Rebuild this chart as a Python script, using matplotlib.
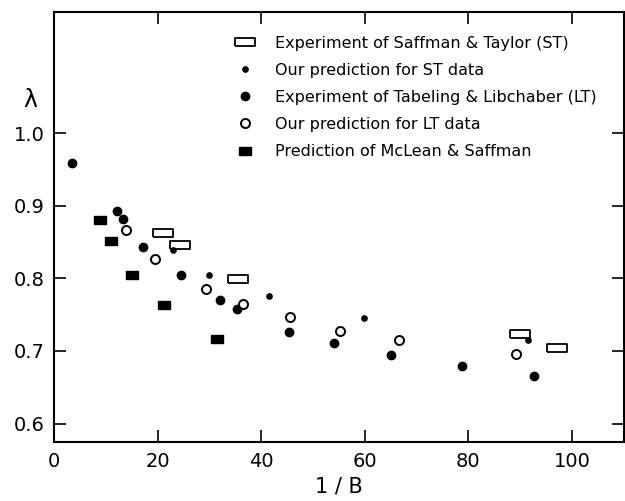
import numpy as np
import matplotlib.pyplot as plt

# Saffman & Taylor experiment (open rectangles)
st_x = [21.0, 24.2, 35.5, 89.9, 97.1]
st_y = [0.863, 0.846, 0.799, 0.724, 0.704]

# our prediction for ST data (small dots)
st_pred_x = [23.0, 29.9, 41.5, 59.9, 91.6]
st_pred_y = [0.839, 0.805, 0.776, 0.746, 0.715]

# Tabeling & Libchaber experiment (filled circles)
lt_x = [3.4, 12.1, 13.2, 17.1, 24.5, 32.1, 35.3, 45.4, 54.1, 65.0, 78.7, 92.7]
lt_y = [0.959, 0.893, 0.882, 0.843, 0.804, 0.770, 0.758, 0.726, 0.711, 0.695, 0.679, 0.666]

# our prediction for LT data (open circles)
lt_pred_x = [13.85, 19.5, 29.4, 36.5, 45.5, 55.1, 66.5, 89.2]
lt_pred_y = [0.866, 0.826, 0.785, 0.765, 0.747, 0.728, 0.715, 0.6955]

# McLean & Saffman prediction (filled rectangles)
ms_x = [8.85, 11.0, 15.0, 21.2, 31.5]
ms_y = [0.880, 0.851, 0.804, 0.763, 0.716]

wide_rect = [(-1.25, -0.45), (1.25, -0.45), (1.25, 0.45), (-1.25, 0.45), (-1.25, -0.45)]
fat_rect = [(-0.7, -0.5), (0.7, -0.5), (0.7, 0.5), (-0.7, 0.5), (-0.7, -0.5)]

fig = plt.figure(figsize=(6.25, 5.01), dpi=100)
ax = fig.add_axes([0.0869, 0.117, 0.911, 0.859])

ax.plot(st_x, st_y, ls='none', marker=wide_rect, ms=14.5, mfc='white', mec='black', mew=1.3,
        label='Experiment of Saffman & Taylor (ST)')
ax.plot(st_pred_x, st_pred_y, ls='none', marker='o', ms=3.8, color='black',
        label='Our prediction for ST data')
ax.plot(lt_x, lt_y, ls='none', marker='o', ms=6.0, color='black',
        label='Experiment of Tabeling & Libchaber (LT)')
ax.plot(lt_pred_x, lt_pred_y, ls='none', marker='o', ms=6.5, mfc='white', mec='black', mew=1.4,
        label='Our prediction for LT data')
ax.plot(ms_x, ms_y, ls='none', marker=fat_rect, ms=8.5, color='black',
        label='Prediction of McLean & Saffman')

ax.set_xlim(0, 110)
ax.set_ylim(0.574, 1.167)
ax.set_xticks([0, 20, 40, 60, 80, 100])
ax.set_yticks([0.6, 0.7, 0.8, 0.9, 1.0])
ax.set_yticklabels(['0.6', '0.7', '0.8', '0.9', '1.0'])
ax.tick_params(direction='in', top=True, right=True, length=8.5, width=1.2, labelsize=14, pad=7)
for s in ax.spines.values():
    s.set_linewidth(1.5)

ax.set_xlabel('1 / B', fontsize=15, labelpad=4)
ax.text(-0.043, 0.795, 'λ', transform=ax.transAxes, fontsize=17, ha='center', va='center')

ax.legend(loc='upper left', bbox_to_anchor=(0.285, 0.975), frameon=False, fontsize=11.5,
          handletextpad=0.85, labelspacing=0.76, handlelength=2.0, borderpad=0.3)

fig.savefig('out.png', dpi=100)
